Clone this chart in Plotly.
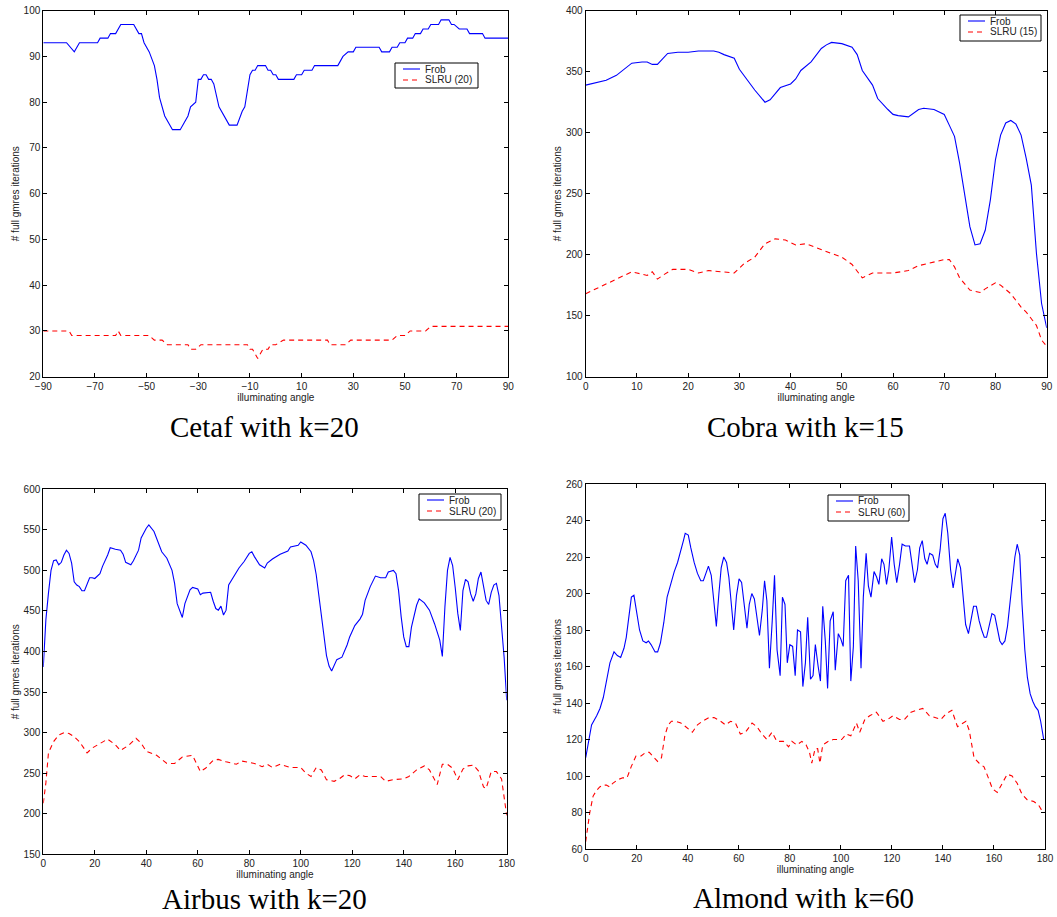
import plotly.graph_objects as go

# ---------------- data ----------------
# Cetaf, k=20
cetaf_frob_angle = [-90, -81, -78, -76, -69, -68, -65, -64, -62, -60,
                    -55, -53, -52, -51, -49, -47, -46, -45, -43, -40,
                    -37, -34, -33, -31, -30, -29, -28, -27, -26, -25,
                    -24, -22, -18, -15, -13, -12, -10, -9, -8, -7,
                    -4, -3, -2, -1, 0, 1, 7, 8, 10, 11,
                    14, 15, 24, 26, 28, 30, 31, 40, 41, 44,
                    45, 47, 48, 50, 51, 53, 54, 56, 57, 59,
                    60, 63, 64, 67, 68, 69, 71, 74, 75, 80,
                    81, 90]
cetaf_frob_iters = [93, 93, 91, 93, 93, 94, 94, 95, 95, 97,
                    97, 95, 95, 93, 91, 88, 85, 81, 77, 74,
                    74, 77, 79, 80, 85, 85, 86, 86, 85, 85,
                    84, 79, 75, 75, 78, 79, 86, 87, 87, 88,
                    88, 87, 87, 86, 86, 85, 85, 86, 86, 87,
                    87, 88, 88, 90, 91, 91, 92, 92, 91, 91,
                    92, 92, 93, 93, 94, 94, 95, 95, 96, 96,
                    97, 97, 98, 98, 97, 97, 96, 96, 95, 95,
                    94, 94]
cetaf_slru_angle = [-90, -80, -79, -62, -61, -60, -49, -47, -44, -42,
                    -34, -33, -31, -29, -11, -10, -9, -7, -5, -3,
                    -2, 0, 3, 20, 21, 27, 29, 45, 47, 50,
                    52, 58, 60, 90]
cetaf_slru_iters = [30, 30, 29, 29, 30, 29, 29, 28, 28, 27,
                    27, 26, 26, 27, 27, 26, 26, 24, 26, 26,
                    27, 27, 28, 28, 27, 27, 28, 28, 29, 29,
                    30, 30, 31, 31]

# Cobra, k=15
cobra_frob_angle = [0, 1, 4, 6, 8, 9, 11, 12, 13, 14,
                    16, 18, 20, 22, 25, 26, 27, 29, 30, 33,
                    35, 36, 38, 40, 41, 42, 44, 46, 47, 48,
                    50, 52, 53, 54, 56, 57, 59, 60, 61, 63,
                    65, 66, 68, 70, 71, 72, 73, 74, 75, 76,
                    77, 78, 79, 80, 81, 82, 83, 84, 85, 86,
                    87, 88, 89, 90]
cobra_frob_iters = [339, 340, 343, 347, 354, 357, 358, 358, 356, 356,
                    365, 366, 366, 367, 367, 366, 364, 361, 352, 335,
                    325, 327, 337, 340, 344, 351, 358, 369, 372, 374,
                    373, 370, 364, 351, 339, 328, 319, 315, 314, 313,
                    319, 320, 319, 315, 306, 297, 275, 248, 223, 208,
                    209, 220, 245, 278, 298, 308, 310, 307, 298, 279,
                    257, 201, 160, 140]
cobra_slru_angle = [0, 2, 3, 5, 7, 9, 10, 12, 13, 14,
                    15, 17, 20, 22, 24, 27, 29, 31, 33, 35,
                    37, 39, 41, 43, 46, 48, 50, 52, 54, 56,
                    60, 63, 65, 67, 70, 71, 72, 73, 75, 77,
                    78, 80, 81, 83, 84, 85, 86, 88, 89, 90]
cobra_slru_iters = [168, 172, 174, 178, 182, 186, 185, 183, 186, 180,
                    183, 188, 188, 185, 187, 186, 185, 193, 198, 209,
                    213, 212, 208, 209, 204, 201, 198, 192, 181, 185,
                    185, 187, 191, 193, 196, 196, 190, 181, 171, 169,
                    172, 177, 175, 168, 162, 157, 153, 142, 130, 125]

# Airbus, k=20
airbus_frob_angle = [0, 1, 2, 3, 4, 5, 6, 7, 8, 9,
                     10, 11, 12, 13, 14, 15, 16, 17, 18, 19,
                     20, 22, 23, 25, 26, 28, 30, 31, 32, 34,
                     35, 37, 38, 40, 41, 43, 45, 46, 48, 50,
                     51, 52, 54, 55, 57, 58, 60, 61, 62, 64,
                     65, 66, 67, 68, 69, 70, 71, 72, 74, 76,
                     78, 80, 81, 82, 84, 86, 87, 89, 92, 95,
                     96, 99,
                     100, 102, 104, 105, 106, 107, 108, 109, 110, 111,
                     112, 114, 116, 118, 119, 121, 123, 124, 125, 127,
                     129, 131, 133, 134, 136, 137, 138, 139, 140, 141,
                     142, 143, 145, 146, 148, 150, 152, 154, 155, 156,
                     157, 158, 159, 160, 161, 162, 163, 164, 165, 166,
                     167, 168, 169, 170, 171, 172, 173, 174, 175, 176,
                     177, 178, 179, 180]
airbus_frob_iters = [381, 439, 472, 500, 512, 513, 507, 510, 519, 525,
                     521, 509, 486, 482, 480, 475, 475, 482, 491, 491,
                     490, 496, 505, 519, 528, 526, 525, 520, 510, 507,
                     512, 525, 540, 552, 556, 548, 531, 523, 515, 500,
                     484, 459, 442, 459, 476, 479, 477, 470, 472, 473,
                     473, 462, 453, 451, 456, 445, 451, 482, 492, 503,
                     511, 521, 523, 517, 507, 503, 509, 514, 520, 524,
                     529, 531,
                     535, 531, 523, 512, 495, 470, 447, 418, 395, 382,
                     376, 390, 393, 408, 418, 432, 440, 446, 463, 480,
                     493, 491, 491, 498, 500, 496, 475, 443, 418, 406,
                     406, 430, 457, 465, 460, 451, 434, 414, 394, 455,
                     500, 516, 506, 479, 447, 426, 475, 489, 486, 471,
                     462, 471, 490, 498, 479, 463, 458, 473, 482, 484,
                     469, 434, 393, 340]
airbus_slru_angle = [0, 1, 2, 4, 6, 8, 10, 12, 14, 16,
                     17, 19, 22, 25, 28, 30, 33, 36, 38, 40,
                     44, 48, 51, 54, 58, 61, 63, 66, 68, 71,
                     75, 77, 82, 85, 87, 89, 92, 96,
                     100, 102, 104, 106, 108, 110, 113, 115, 117, 119,
                     121, 123, 125, 128, 131, 133, 136, 140, 142, 145,
                     148, 150, 152, 153, 155, 157, 159, 161, 163, 165,
                     167, 169, 171, 172, 174, 176, 178, 179, 180]
airbus_slru_iters = [213, 238, 275, 289, 297, 300, 299, 295, 289, 279,
                     275, 281, 286, 292, 285, 278, 284, 293, 287, 277,
                     272, 262, 262, 270, 272, 252, 256, 266, 267, 264,
                     261, 265, 262, 258, 261, 257, 261, 257,
                     257, 250, 246, 257, 254, 242, 240, 243, 248, 247,
                     243, 248, 246, 246, 246, 240, 242, 243, 246, 254,
                     259, 254, 241, 236, 261, 261, 256, 242, 255, 259,
                     260, 253, 233, 231, 252, 252, 243, 217, 198]

# Almond, k=60
almond_frob_angle = [0, 1.3, 2.3, 4.3, 5.6, 6.9, 8.2, 9.5, 11.1, 12.4,
                     13.7, 15, 15.9, 17, 17.9, 18.9, 19.8, 21.1, 22.4, 23.7,
                     24.6, 25.6, 27.2, 28.2, 29.3, 30.6, 31.9, 33.2, 34.7, 36,
                     37.3, 38.3, 39, 40.2, 41.2, 42.5, 43.8, 45.1, 46.1, 47.2,
                     48.1, 49.2, 50.3, 51.2, 52.2, 53.1, 54.1, 55.2, 56.1, 57,
                     58, 59.1, 60.1, 61.1, 62.2, 63.2, 64.1, 65.1, 66.1, 67.1,
                     68.1, 69.2, 70.1, 71, 72, 73.1, 74, 75, 76.2, 77.1,
                     78.1, 79, 80, 81.1, 82.1, 83, 84.2, 85.1, 86.1, 87,
                     88.1, 89.1, 90, 91.1, 92, 92.9, 93.9, 94.8, 95.8, 97,
                     97.8, 99, 100, 100.9, 101.9, 103, 103.9, 104.9, 105.8, 106.8,
                     107.9, 108.8, 109.9, 110.8, 111.8, 113, 114, 114.9, 116, 116.9,
                     117.9, 118.8, 119.9, 120.9, 121.9, 123, 124, 125.3, 126.9, 127.9,
                     128.9, 130, 130.9, 131.9, 132.9, 133.8, 134.8, 136, 137, 137.9,
                     138.9, 140, 140.9, 141.9, 143, 144, 144.9, 145.8, 146.9, 147.9,
                     148.9, 150, 151, 152, 153.1, 154.2, 155.2, 156.2, 157.1, 158.2,
                     159.2, 160.3, 161.3, 162.3, 163.2, 164.3, 165.3, 166.4, 167.4, 168.2,
                     169.1, 170.1, 171, 172.1, 173.1, 174.2, 175.2, 176.2, 177.3, 178.3,
                     179.5, 180]
almond_frob_iters = [110, 121, 128, 133, 137, 143, 152, 162, 168, 166,
                     165, 170, 176, 187, 198, 199, 191, 180, 174, 173,
                     174, 172, 168, 168, 173, 184, 198, 205, 212, 217,
                     223, 229, 233, 232, 225, 217, 211, 207, 207, 212,
                     215, 210, 194, 182, 200, 214, 220, 217, 209, 193,
                     180, 199, 208, 206, 193, 181, 194, 200, 197, 187,
                     177, 191, 207, 196, 159, 185, 210, 169, 155, 198,
                     194, 162, 172, 171, 155, 180, 179, 149, 162, 187,
                     153, 155, 172, 160, 152, 193, 174, 148, 185, 190,
                     158, 178, 175, 171, 207, 210, 152, 171, 226, 207,
                     159, 198, 222, 204, 198, 212, 209, 205, 219, 216,
                     205, 213, 231, 216, 206, 216, 227, 226, 226, 216,
                     206, 213, 225, 229, 219, 216, 222, 221, 216, 214,
                     224, 241, 244, 233, 213, 203, 212, 219, 214, 200,
                     183, 178, 185, 193, 193, 185, 180, 176, 176, 182,
                     189, 188, 180, 174, 172, 174, 182, 197, 212, 220,
                     227, 221, 194, 169, 154, 145, 141, 138, 136, 130,
                     120, 120]
almond_slru_angle = [0, 1.6, 2.9, 4.2, 5.5, 6.8, 8.1, 9.4, 10.6, 12.6,
                     14.5, 16.2, 17.8, 19.7, 21.7, 23.6, 24.9, 26.9, 28.2, 29.7,
                     31, 32.3, 33.6, 35.3, 37.3, 39.2, 41.8, 43.8, 45.7, 48.3,
                     50.3, 52.9, 54.8, 56.8, 58.7, 60.6, 62.6, 65.2, 67.1, 69.1,
                     71, 73, 74.9, 77.5, 79.5, 80.8, 82.7, 84.7, 86.4, 87.7,
                     88.6, 89.9, 90.9, 91.8, 92.9, 95.1, 97, 100.3, 102.2, 103.9,
                     106.1, 107.4, 109.4, 111.3, 113.9, 116.5, 118.4, 120.4, 123, 124.9,
                     127.5, 129.5, 132.1, 134.7, 137.3, 139.2, 141.2, 143.5, 145.7, 147.7,
                     149, 150.3, 152.2, 154.2, 156.1, 157.8, 159.4, 161.3, 163.2, 165.2,
                     167.1, 169.1, 171, 173, 175.6, 177.5, 178.8, 180]
almond_slru_iters = [64, 80, 89, 92, 94, 95, 95, 94, 96, 98,
                     99, 99, 105, 111, 111, 113, 113, 110, 108, 110,
                     122, 128, 130, 130, 129, 127, 124, 128, 130, 132,
                     132, 130, 128, 130, 129, 123, 124, 129, 127, 123,
                     120, 124, 119, 119, 116, 119, 117, 119, 117, 113,
                     107, 115, 115, 107, 117, 119, 120, 120, 123, 122,
                     129, 124, 131, 133, 135, 130, 131, 133, 131, 131,
                     135, 136, 137, 133, 132, 131, 134, 136, 127, 129,
                     130, 125, 110, 107, 105, 99, 93, 91, 96, 101,
                     100, 96, 90, 87, 86, 84, 81, 80]

captions = ["Cetaf with k=20", "Cobra with k=15", "Airbus with k=20", "Almond with k=60"]
frob_label = "Frob"
slru_labels = ["SLRU (20)", "SLRU (15)", "SLRU (20)", "SLRU (60)"]
x_title = "illuminating angle"
y_title = "# full gmres iterations"
x_ranges = [[-90, 90], [0, 90], [0, 180], [0, 180]]
x_ticks = [list(range(-90, 91, 20)), list(range(0, 91, 10)),
           list(range(0, 181, 20)), list(range(0, 181, 20))]
y_ranges = [[20, 100], [100, 400], [150, 600], [60, 260]]
y_ticks = [list(range(20, 101, 10)), list(range(100, 401, 50)),
           list(range(150, 601, 50)), list(range(60, 261, 20))]

series = [
    (cetaf_frob_angle, cetaf_frob_iters, cetaf_slru_angle, cetaf_slru_iters),
    (cobra_frob_angle, cobra_frob_iters, cobra_slru_angle, cobra_slru_iters),
    (airbus_frob_angle, airbus_frob_iters, airbus_slru_angle, airbus_slru_iters),
    (almond_frob_angle, almond_frob_iters, almond_slru_angle, almond_slru_iters),
]

# ---------------- layout (pixel geometry of the reference) ----------------
W, H = 1057, 917
plot_boxes = [  # left, right, top, bottom in px
    (43.3, 508.3, 10.7, 376.7),
    (585.7, 1046.7, 10.7, 376.7),
    (43.3, 506.7, 489.3, 854.3),
    (585.7, 1045.0, 484.0, 849.0),
]
legend_boxes = [  # left, top, width, height in px
    (395, 63, 83, 25),
    (960, 15, 81, 26),
    (419, 494, 82, 26),
    (828, 495, 81, 26),
]
caption_pos = [(264, 427), (805, 427), (264, 899), (803, 898)]

SANS = "Liberation Sans, Arial, Helvetica, sans-serif"
SERIF = "Liberation Serif, Times New Roman, serif"
TXT = "#222222"
BLUE = "#0000ff"
RED = "#ff0000"
DASH = "5px,4px"


def px(xp, yp):
    return xp / W, 1 - yp / H


fig = go.Figure()
layout = dict(
    width=W, height=H, margin=dict(l=0, r=0, t=0, b=0, autoexpand=False),
    paper_bgcolor="white", plot_bgcolor="white",
    font=dict(family=SANS, size=10, color=TXT),
    annotations=[], shapes=[], showlegend=False,
)

for i in range(4):
    n = "" if i == 0 else str(i + 1)
    fx, fy, sx, sy = series[i]
    fig.add_trace(go.Scatter(x=fx, y=fy, mode="lines", name=frob_label,
                             line=dict(color=BLUE, width=1.1),
                             xaxis="x" + n, yaxis="y" + n))
    fig.add_trace(go.Scatter(x=sx, y=sy, mode="lines", name=slru_labels[i],
                             line=dict(color=RED, width=1.1, dash=DASH),
                             xaxis="x" + n, yaxis="y" + n))
    l, r, t, b = plot_boxes[i]
    axis_common = dict(showline=True, linecolor="black", linewidth=1,
                       mirror="ticks", ticks="inside", ticklen=4,
                       tickcolor="black", showgrid=False, zeroline=False,
                       automargin=False,
                       tickfont=dict(family=SANS, size=10, color=TXT))
    layout["xaxis" + n] = dict(domain=[l / W, r / W], range=x_ranges[i],
                               tickvals=x_ticks[i], anchor="y" + n,
                               title=dict(text=x_title,
                                          font=dict(family=SANS, size=10, color=TXT),
                                          standoff=2),
                               **axis_common)
    layout["yaxis" + n] = dict(domain=[1 - b / H, 1 - t / H], range=y_ranges[i],
                               tickvals=y_ticks[i], anchor="x" + n,
                               title=dict(text=y_title,
                                          font=dict(family=SANS, size=10, color=TXT),
                                          standoff=2),
                               **axis_common)

    # legend box (Matlab-style: short line samples, compact rows)
    lx, ly, lw, lh = legend_boxes[i]
    x0, y0 = px(lx, ly)
    x1, y1 = px(lx + lw, ly + lh)
    layout["shapes"].append(dict(type="rect", xref="paper", yref="paper",
                                 x0=x0, x1=x1, y0=y1, y1=y0,
                                 line=dict(color="black", width=1),
                                 fillcolor="white"))
    rows = [(frob_label, BLUE, "solid", 6), (slru_labels[i], RED, DASH, 17)]
    for label, color, dash, dy in rows:
        sx0, sy0 = px(lx + 8, ly + dy)
        sx1, _ = px(lx + 25, ly + dy)
        layout["shapes"].append(dict(type="line", xref="paper", yref="paper",
                                     x0=sx0, x1=sx1, y0=sy0, y1=sy0,
                                     line=dict(color=color, width=1.1, dash=dash)))
        tx, ty = px(lx + 28, ly + dy)
        layout["annotations"].append(dict(text=label, x=tx, y=ty,
                                          xref="paper", yref="paper",
                                          showarrow=False, xanchor="left",
                                          yanchor="middle",
                                          font=dict(family=SANS, size=10, color=TXT)))

    cx, cy = px(*caption_pos[i])
    layout["annotations"].append(dict(text=captions[i], x=cx, y=cy,
                                      xref="paper", yref="paper", showarrow=False,
                                      xanchor="center", yanchor="middle",
                                      font=dict(family=SERIF, size=29, color="black")))

fig.update_layout(**layout)
fig.write_html("out.html")
